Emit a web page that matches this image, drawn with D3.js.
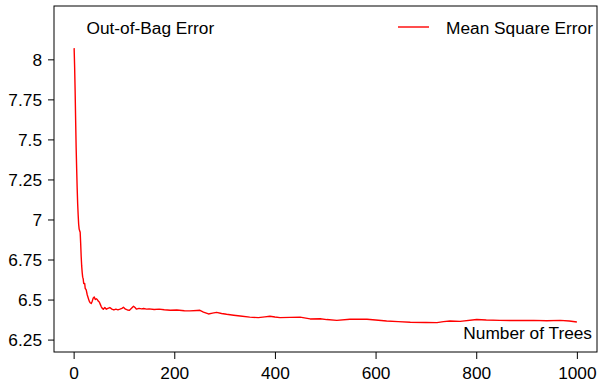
<!DOCTYPE html>
<html>
<head>
<meta charset="utf-8">
<script src="https://cdn.jsdelivr.net/npm/d3@7"></script>
<style>
  body { margin: 0; background: white; }
  svg text { font-family: "Liberation Sans", Arial, sans-serif; fill: black; }
</style>
</head>
<body>
<div id="chart"></div>
<script>
// number of trees and out-of-bag mean square error
var trees = [1, 2, 3, 4, 5, 6, 7, 8, 9, 10, 11, 12, 13, 14, 15, 16, 17, 18, 19, 20,
  22, 23, 25, 27, 29, 31, 33, 35, 37, 39, 41, 43, 45, 47, 49, 51, 53, 55, 57, 59,
  62, 65, 68, 72, 76, 80, 84, 88, 92, 96, 99, 103, 107, 111, 115, 119, 122, 125,
  130, 135, 139, 145, 150, 160, 170, 180, 192, 205, 220, 231, 245, 251, 258, 268,
  276, 284, 294, 304, 318, 331, 350, 367, 380, 390, 400, 410, 430, 450, 470, 490,
  503, 523, 549, 583, 600, 622, 645, 669, 700, 722, 735, 748, 768, 801, 820, 847,
  880, 914, 940, 967, 985, 1000];
var mse = [8.07, 7.95, 7.8, 7.62, 7.45, 7.32, 7.2, 7.1, 7.03, 6.97, 6.94, 6.93, 6.92, 6.85, 6.77, 6.71, 6.67, 6.64, 6.63, 6.6,
  6.6, 6.57, 6.56, 6.53, 6.51, 6.49, 6.48, 6.475, 6.49, 6.51, 6.516, 6.5, 6.505, 6.5, 6.49, 6.485, 6.47, 6.455, 6.445, 6.44,
  6.45, 6.44, 6.445, 6.45, 6.44, 6.435, 6.44, 6.436, 6.44, 6.445, 6.452, 6.44, 6.435, 6.433, 6.445, 6.458, 6.45, 6.44,
  6.445, 6.442, 6.444, 6.44, 6.442, 6.438, 6.44, 6.436, 6.433, 6.435, 6.43, 6.429, 6.432, 6.433, 6.422, 6.41,
  6.415, 6.42, 6.413, 6.408, 6.402, 6.397, 6.39, 6.387, 6.392, 6.396, 6.391, 6.387, 6.389, 6.39, 6.379, 6.38,
  6.375, 6.37, 6.377, 6.377, 6.372, 6.366, 6.362, 6.358, 6.357, 6.356, 6.362, 6.366, 6.364, 6.375, 6.372, 6.37,
  6.369, 6.37, 6.368, 6.37, 6.366, 6.36];
var xTicks = [0, 200, 400, 600, 800, 1000];
var yTicks = [6.25, 6.5, 6.75, 7, 7.25, 7.5, 7.75, 8];
var seriesName = 'Mean Square Error';
var title = 'Out-of-Bag Error';
var xTitle = 'Number of Trees';

var width = 600, height = 382;
var box = {left: 54, right: 597, top: 6, bottom: 352};
var fontSize = 17.3;

var svg = d3.select('#chart').append('svg')
  .attr('width', width)
  .attr('height', height);

var x = d3.scaleLinear().domain([-39, 1040]).range([box.left, box.right]);
var y = d3.scaleLinear().domain([6.1725, 8.333]).range([box.bottom, box.top]);

var xAxis = svg.append('g')
  .attr('transform', 'translate(0,' + box.bottom + ')')
  .call(d3.axisBottom(x).tickValues(xTicks).tickSize(7).tickPadding(8).tickFormat(d3.format('d')));
var yAxis = svg.append('g')
  .attr('transform', 'translate(' + box.left + ',0)')
  .call(d3.axisLeft(y).tickValues(yTicks).tickSize(6).tickPadding(6).tickFormat(function(d){ return String(d); }));

[xAxis, yAxis].forEach(function(a) {
  a.select('.domain').remove();
  a.selectAll('.tick line').attr('stroke', 'black').attr('stroke-width', 1);
  a.selectAll('.tick text').style('font-size', fontSize + 'px').attr('fill', 'black');
});
yAxis.selectAll('.tick text').attr('dy', '0.35em');

svg.append('rect')
  .attr('x', box.left)
  .attr('y', box.top)
  .attr('width', box.right - box.left)
  .attr('height', box.bottom - box.top)
  .attr('fill', 'none')
  .attr('stroke', 'black')
  .attr('stroke-width', 1);

var line = d3.line()
  .x(function(d, i){ return x(trees[i]); })
  .y(function(d){ return y(d); });

svg.append('path')
  .datum(mse)
  .attr('d', line)
  .attr('fill', 'none')
  .attr('stroke', '#ff0000')
  .attr('stroke-width', 1.4)
  .attr('stroke-linejoin', 'round');

svg.append('text')
  .attr('x', 86.5)
  .attr('y', 33.5)
  .style('font-size', fontSize + 'px')
  .text(title);

svg.append('line')
  .attr('x1', 398).attr('x2', 429)
  .attr('y1', 27).attr('y2', 27)
  .attr('stroke', '#ff0000')
  .attr('stroke-width', 1.4);

svg.append('text')
  .attr('x', 593)
  .attr('y', 33.5)
  .attr('text-anchor', 'end')
  .style('font-size', fontSize + 'px')
  .text(seriesName);

svg.append('text')
  .attr('x', 592)
  .attr('y', 338.5)
  .attr('text-anchor', 'end')
  .style('font-size', fontSize + 'px')
  .text(xTitle);
</script>
</body>
</html>
